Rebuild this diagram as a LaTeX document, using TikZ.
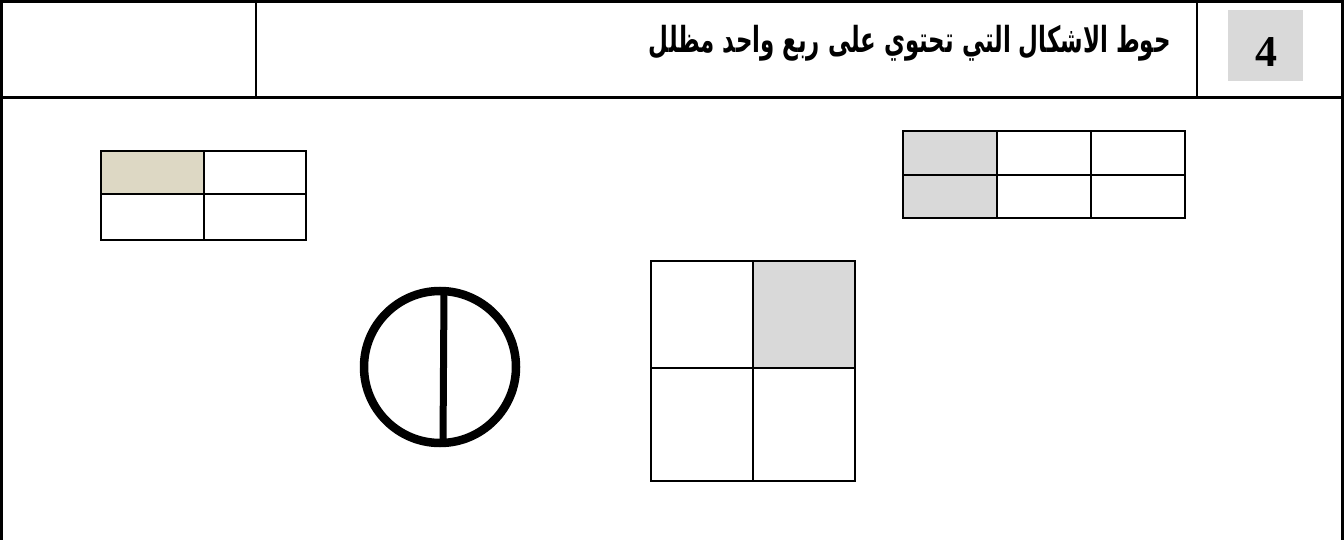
\documentclass[tikz,border=0pt]{standalone}
\usepackage{fontspec}
\setmainfont{Liberation Serif}
\newfontfamily\arabicfont[Script=Arabic]{DejaVu Sans}
\TeXXeTstate=1
\definecolor{beigeshade}{HTML}{DDD8C4}
\definecolor{grayshade}{HTML}{D9D9D9}
\begin{document}
\begin{tikzpicture}[x=1pt,y=-1pt,
  frame/.style={line width=3pt},
  divider/.style={line width=1.6pt},
  gridline/.style={line width=2.2pt},
  ringline/.style={line width=8.5pt}]
\useasboundingbox (0,0) rectangle (1344,540);
% outer frame and header
\draw[frame] (1.5,545) -- (1.5,1.5) -- (1342.5,1.5) -- (1342.5,545);
\draw[frame] (0,98) -- (1344,98);
\draw[divider] (256,1.5) -- (256,98);
\draw[divider] (1197,1.5) -- (1197,98);
% number box
\node[fill=grayshade, minimum width=75pt, minimum height=71pt, inner sep=0pt] (numbox) at (1265,45.5) {};
\node[anchor=base, inner sep=0pt, font=\fontsize{44}{44}\selectfont\bfseries] (num) at (1266,67) {4};
% title
\node[anchor=east, inner sep=0pt] (title) at (1171,43)
  {\resizebox*{522pt}{36pt}{\arabicfont\bfseries\beginR حوط الاشكال التي تحتوي على ربع واحد مظلل\endR}};
% left table 2x2
\fill[beigeshade] (101,151) rectangle (204,194);
\draw[gridline] (101,151) rectangle (306,240);
\draw[gridline] (101,194) -- (306,194);
\draw[gridline] (204,151) -- (204,240);
% right table 2x3
\fill[grayshade] (903,131) rectangle (997,218);
\draw[gridline] (903,131) rectangle (1185,218);
\draw[gridline] (903,175) -- (1185,175);
\draw[gridline] (997,131) -- (997,218);
\draw[gridline] (1091,131) -- (1091,218);
% circle split in halves
\draw[ringline] (440,367) circle (76);
\draw[line width=7pt] (444,291) -- (443,443);
% square 2x2
\fill[grayshade] (753,261) rectangle (855,368);
\draw[gridline] (651,261) rectangle (855,481);
\draw[gridline] (651,368) -- (855,368);
\draw[gridline] (753,261) -- (753,481);
\end{tikzpicture}
\end{document}
